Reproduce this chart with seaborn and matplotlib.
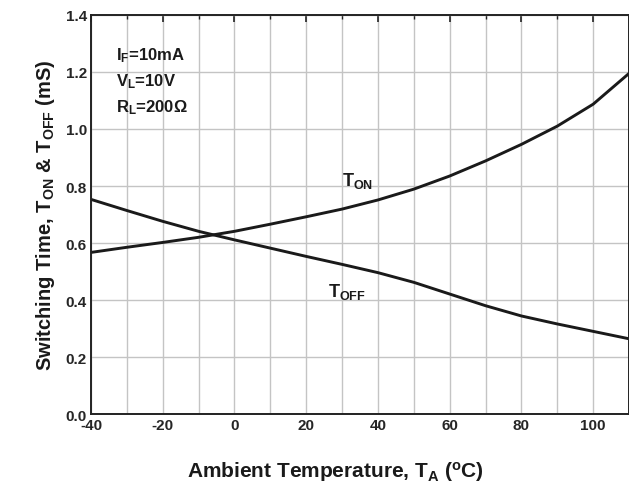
import matplotlib
matplotlib.use("Agg")
import matplotlib.pyplot as plt
import seaborn as sns
import pandas as pd
from matplotlib.ticker import MultipleLocator

temps = [-40, -30, -20, -10, 0, 10, 20, 30, 40, 50, 60, 70, 80, 90, 100, 110]
t_on = [0.567, 0.585, 0.602, 0.620, 0.641, 0.666, 0.692, 0.719, 0.751, 0.789,
        0.835, 0.888, 0.946, 1.010, 1.087, 1.195]
t_off = [0.753, 0.714, 0.676, 0.641, 0.611, 0.582, 0.553, 0.525, 0.496, 0.462,
         0.421, 0.380, 0.344, 0.316, 0.290, 0.264]
x_ticks = [-40, -20, 0, 20, 40, 60, 80, 100]
y_ticks = [0.0, 0.2, 0.4, 0.6, 0.8, 1.0, 1.2, 1.4]

sns.set_style("white")
plt.rcParams["font.family"] = ["Liberation Sans", "DejaVu Sans"]
plt.rcParams["mathtext.fontset"] = "custom"
plt.rcParams["mathtext.rm"] = "Liberation Sans:bold"
plt.rcParams["mathtext.bf"] = "Liberation Sans:bold"
plt.rcParams["mathtext.it"] = "Liberation Sans:bold"

df = pd.DataFrame({"temp": temps, "on": t_on, "off": t_off})

fig = plt.figure(figsize=(6.29, 4.89), dpi=100)
ax = fig.add_axes([0.1447, 0.1513, 0.8553, 0.8160])

sns.lineplot(data=df, x="temp", y="on", ax=ax, color="#1a1a1a", linewidth=2.1)
sns.lineplot(data=df, x="temp", y="off", ax=ax, color="#1a1a1a", linewidth=2.1)

ax.set_xlim(-40, 110)
ax.set_ylim(0, 1.4)
ax.set_xticks(x_ticks)
ax.set_yticks(y_ticks)
ax.xaxis.set_minor_locator(MultipleLocator(10))
ax.set_xticklabels([str(v) for v in x_ticks], fontweight="bold", fontsize=11)
ax.set_yticklabels([f"{v:.1f}" for v in y_ticks], fontweight="bold", fontsize=11)

ax.grid(False)
ax.xaxis.grid(True, which="minor", color="#c4c4c4", linewidth=1.0)
ax.xaxis.grid(True, which="major", color="#c4c4c4", linewidth=1.0)
ax.yaxis.grid(True, which="major", color="#c4c4c4", linewidth=1.0)
ax.set_axisbelow(True)

ax.tick_params(axis="both", which="major", direction="in", length=5, width=1.2,
               color="#222222", top=True, pad=3)
ax.tick_params(axis="x", which="minor", direction="in", length=3, width=1.0,
               color="#222222", top=True)
for s in ax.spines.values():
    s.set_color("#222222")
    s.set_linewidth(1.4)

ax.set_xlabel(r"Ambient Temperature, T$_{\mathbf{A}}$ ($^{\mathbf{o}}$C)",
              fontsize=15, fontweight="bold", color="#1a1a1a")
ax.xaxis.set_label_coords(0.4535, -0.112)
ax.set_ylabel(r"Switching Time, T$_{\mathbf{ON}}$ & T$_{\mathbf{OFF}}$ (mS)",
              fontsize=14.5, fontweight="bold", labelpad=6, color="#1a1a1a")

ax.text(-33.1, 1.246, r"I$_{\mathbf{F}}$=10mA", fontsize=12, fontweight="bold",
        va="baseline", ha="left", color="#1a1a1a")
ax.text(-33.1, 1.152, r"V$_{\mathbf{L}}$=10V", fontsize=12, fontweight="bold",
        va="baseline", ha="left", color="#1a1a1a")
ax.text(-33.1, 1.061, r"R$_{\mathbf{L}}$=200Ω", fontsize=12, fontweight="bold",
        va="baseline", ha="left", color="#1a1a1a")

ax.text(30.0, 0.804, r"T$_{\mathbf{ON}}$", fontsize=13, fontweight="bold",
        va="baseline", ha="left", color="#1a1a1a")
ax.text(26.0, 0.414, r"T$_{\mathbf{OFF}}$", fontsize=13, fontweight="bold",
        va="baseline", ha="left", color="#1a1a1a")

fig.savefig("out.png", dpi=100)
